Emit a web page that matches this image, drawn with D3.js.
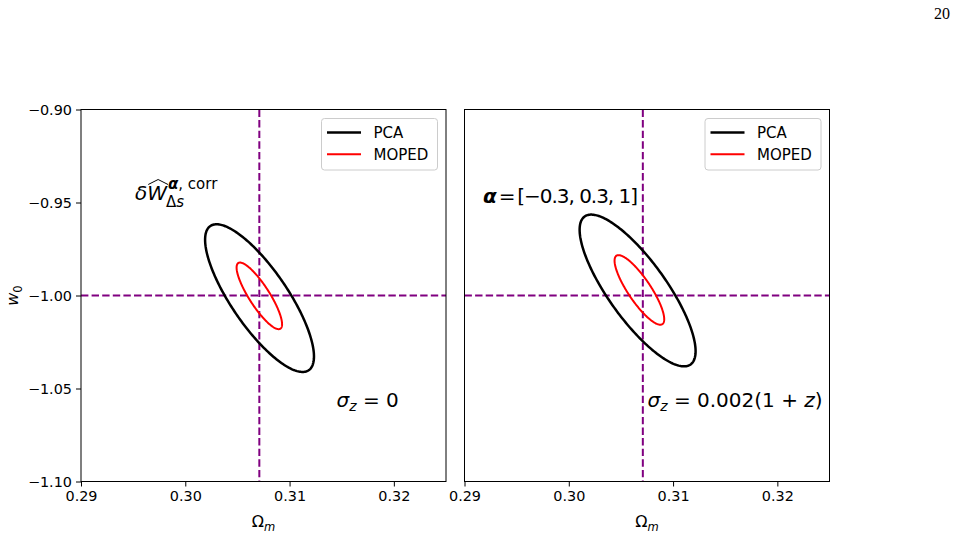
<!DOCTYPE html>
<html>
<head>
<meta charset="utf-8">
<script src="https://cdn.jsdelivr.net/npm/d3@7"></script>
<style>
  body { margin: 0; background: #fff; }
  svg { display: block; font-family: "DejaVu Sans", sans-serif; }
</style>
</head>
<body>
<div id="chart"></div>
<script>
// Axis ticks
const xTicks = [0.29, 0.30, 0.31, 0.32];
const yTicks = [-0.90, -0.95, -1.00, -1.05, -1.10];

// Fiducial cosmology (dashed purple lines)
const fiducial = {Om: 0.3071, w0: -1.0};

// Contour names and colours
const contourNames = ["PCA", "MOPED"];
const contourColors = ["#000000", "#ff0000"];

// Contours: centre, half extent along each axis, correlation
const leftContours = [
    {name: "PCA",   Om: 0.30712, w0: -1.0014, halfOm: 0.00522, halfW: 0.0397, rho: -0.79},
    {name: "MOPED", Om: 0.30710, w0: -1.0002, halfOm: 0.00218, halfW: 0.0179, rho: -0.85}
];
const rightContours = [
    {name: "PCA",   Om: 0.30660, w0: -0.9973, halfOm: 0.00556, halfW: 0.0408, rho: -0.80},
    {name: "MOPED", Om: 0.30677, w0: -0.9970, halfOm: 0.00238, halfW: 0.0187, rho: -0.84}
];

const width = 957, height = 538;
const panelW = 365, panelH = 372;
const marginTop = 109.5;

const svg = d3.select("#chart")
    .append("svg")
    .attr("width", width)
    .attr("height", height);

// Page number
svg.append("text")
    .attr("x", 950)
    .attr("y", 18.5)
    .attr("text-anchor", "end")
    .style("font-family", "'Liberation Serif', 'Times New Roman', serif")
    .style("font-size", "16px")
    .text("20");

const x = d3.scaleLinear().domain([0.29, 0.325]).range([0, panelW]);
const y = d3.scaleLinear().domain([-1.10, -0.90]).range([panelH, 0]);

function drawPanel(left, contours, showY) {
    const g = svg.append("g")
        .attr("transform", `translate(${left},${marginTop})`);

    // fiducial lines
    g.append("line")
        .attr("x1", x(fiducial.Om)).attr("x2", x(fiducial.Om))
        .attr("y1", 0).attr("y2", panelH)
        .attr("stroke", "#800080").attr("stroke-width", 2)
        .attr("stroke-dasharray", "7.4,3.2");
    g.append("line")
        .attr("x1", 0).attr("x2", panelW)
        .attr("y1", y(fiducial.w0)).attr("y2", y(fiducial.w0))
        .attr("stroke", "#800080").attr("stroke-width", 2)
        .attr("stroke-dasharray", "7.4,3.2");

    // contours
    const ts = d3.range(0, 2 * Math.PI, Math.PI / 120);
    const line = d3.line()
        .x(d => x(d[0]))
        .y(d => y(d[1]))
        .curve(d3.curveLinearClosed);

    contours.forEach(c => {
        const pts = ts.map(t => [
            c.Om + c.halfOm * Math.cos(t),
            c.w0 + c.halfW * (c.rho * Math.cos(t) + Math.sqrt(1 - c.rho * c.rho) * Math.sin(t))
        ]);
        g.append("path")
            .attr("d", line(pts))
            .attr("fill", "none")
            .attr("stroke", contourColors[contourNames.indexOf(c.name)])
            .attr("stroke-width", c.name === "PCA" ? 2.5 : 2);
    });

    // axes
    const xAxis = g.append("g")
        .attr("transform", `translate(0,${panelH})`)
        .call(d3.axisBottom(x).tickValues(xTicks).tickFormat(d3.format(".2f")).tickSize(5).tickPadding(4));
    xAxis.select(".domain").remove();
    xAxis.selectAll("text").style("font-size", "14.4px").style("font-family", "DejaVu Sans");

    if (showY) {
        const yAxis = g.append("g")
            .call(d3.axisLeft(y).tickValues(yTicks).tickFormat(d3.format(".2f")).tickSize(5).tickPadding(4));
        yAxis.select(".domain").remove();
        yAxis.selectAll("text").style("font-size", "14.4px").style("font-family", "DejaVu Sans");
    }

    // frame
    g.append("rect")
        .attr("x", 0).attr("y", 0)
        .attr("width", panelW).attr("height", panelH)
        .attr("fill", "none")
        .attr("stroke", "#000")
        .attr("stroke-width", 1);

    // x label
    const xl = g.append("text")
        .attr("x", panelW / 2)
        .attr("y", 527 - marginTop)
        .attr("text-anchor", "middle")
        .style("font-size", "16px");
    xl.append("tspan").text("Ω");
    xl.append("tspan").attr("dy", 4).style("font-size", "11.5px").style("font-style", "italic").text("m");

    // legend
    const legend = g.append("g")
        .attr("transform", `translate(${panelW - 124.5},9)`);
    legend.append("rect")
        .attr("x", 0).attr("y", 0)
        .attr("width", 116).attr("height", 51.5)
        .attr("rx", 3)
        .attr("fill", "#fff").attr("fill-opacity", 0.8)
        .attr("stroke", "#cccccc").attr("stroke-width", 1);
    contourNames.forEach((name, i) => {
        legend.append("line")
            .attr("x1", 5.5).attr("x2", 39.5)
            .attr("y1", 14 + i * 21.7).attr("y2", 14 + i * 21.7)
            .attr("stroke", contourColors[i])
            .attr("stroke-width", i === 0 ? 2.5 : 2);
        legend.append("text")
            .attr("x", 52)
            .attr("y", 19.5 + i * 21.7)
            .style("font-size", "15px")
            .text(name);
    });

    return g;
}

drawPanel(81, leftContours, true);
drawPanel(464.5, rightContours, false);

// y label
const yl = svg.append("text")
    .attr("transform", "translate(18,295.5) rotate(-90)")
    .attr("text-anchor", "middle")
    .style("font-size", "16px");
yl.append("tspan").style("font-style", "italic").text("w");
yl.append("tspan").attr("dy", 4).style("font-size", "11.5px").text("0");

// left annotation: delta W-hat
const ann = svg.append("text")
    .attr("x", 135).attr("y", 200)
    .style("font-size", "20px")
    .style("font-style", "italic")
    .text("δW");
const annNode = ann.node();
const wExt = annNode.getExtentOfChar(1);
const wEnd = wExt.x + wExt.width;
svg.append("path")
    .attr("d", `M${wExt.x + 1},184.5 L${wExt.x + wExt.width / 2 + 1},179.5 L${wEnd + 1},184.5`)
    .attr("fill", "none")
    .attr("stroke", "#000")
    .attr("stroke-width", 1);
const sup = svg.append("text")
    .attr("x", wEnd + 1).attr("y", 189)
    .style("font-size", "15px");
sup.append("tspan").style("font-weight", "bold").style("font-style", "italic").text("α");
sup.append("tspan").text(", corr");
const sub = svg.append("text")
    .attr("x", wEnd - 1).attr("y", 207)
    .style("font-size", "15px");
sub.append("tspan").text("Δ");
sub.append("tspan").style("font-style", "italic").text("s");

// right annotation: alpha vector
const alpha = svg.append("text")
    .attr("x", 483).attr("y", 203)
    .attr("textLength", 155)
    .attr("lengthAdjust", "spacing")
    .style("font-size", "20px");
alpha.append("tspan").style("font-weight", "bold").style("font-style", "italic").text("α");
alpha.append("tspan").text("\u2009=\u2009[−0.3, 0.3, 1]");

// sigma_z annotations
function sigmaText(xPos, rest) {
    const t = svg.append("text")
        .attr("x", xPos).attr("y", 407)
        .style("font-size", "20px");
    t.append("tspan").style("font-style", "italic").text("σ");
    t.append("tspan").attr("dy", 4).style("font-size", "14px").style("font-style", "italic").text("z");
    t.append("tspan").attr("dy", -4).text(rest);
    return t;
}
sigmaText(336.5, " = 0");
const s2 = sigmaText(647.5, " = 0.002(1 + ");
s2.append("tspan").style("font-style", "italic").text("z");
s2.append("tspan").text(")");
</script>
</body>
</html>
